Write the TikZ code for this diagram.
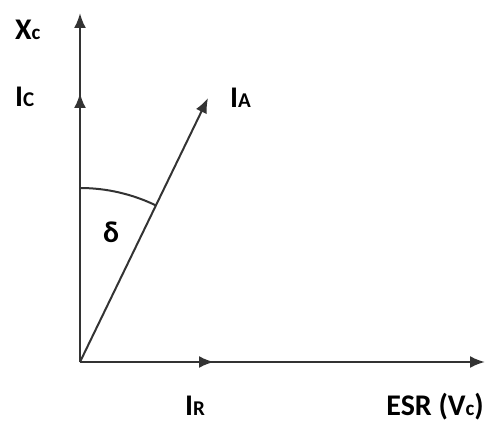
\documentclass[tikz,border=0pt]{standalone}
\usepackage{fontspec}
\setmainfont{Carlito}
\usetikzlibrary{arrows.meta}
\tikzset{lbl/.style={font=\fontsize{30}{34}\selectfont\bfseries,inner sep=0}}
\newcommand{\subsc}[1]{{\fontsize{21}{24}\selectfont #1}}

\begin{document}
\begin{tikzpicture}[x=1pt,y=1pt,line width=2.4pt,draw=black!80,
  >={Latex[length=15pt,width=12pt]}]
\useasboundingbox (0,0) rectangle (485,421);
\coordinate (o) at (80,59);
\coordinate (xc) at (80,408);
\coordinate (ic) at (80,328);
\coordinate (ia) at (208,323);
\coordinate (ir) at (214,59);
\coordinate (esr) at (485,59);
\draw[->] (o)--(xc);
\draw[->] (o)--(ic);
\draw[->] (o)--(esr);
\draw[->] (o)--(ir);
\draw[->,line width=2pt] (o)--(ia);
\draw[line width=2pt] (o) ++(90:174) arc[start angle=90,end angle=64.1,radius=174];
\node[lbl,anchor=base west] (lxc) at (14,381) {X\subsc{c}};
\node[lbl,anchor=base west] (lic) at (14,314) {I\subsc{C}};
\node[lbl,anchor=base west] (lia) at (229,313) {I\subsc{A}};
\node[lbl] (ldelta) at (111,189) {δ};
\node[lbl,anchor=base west] (lir) at (184,6) {I\subsc{R}};
\node[lbl,anchor=base east] (lesr) at (485,6) {ESR (V\subsc{c})};
\end{tikzpicture}
\end{document}
